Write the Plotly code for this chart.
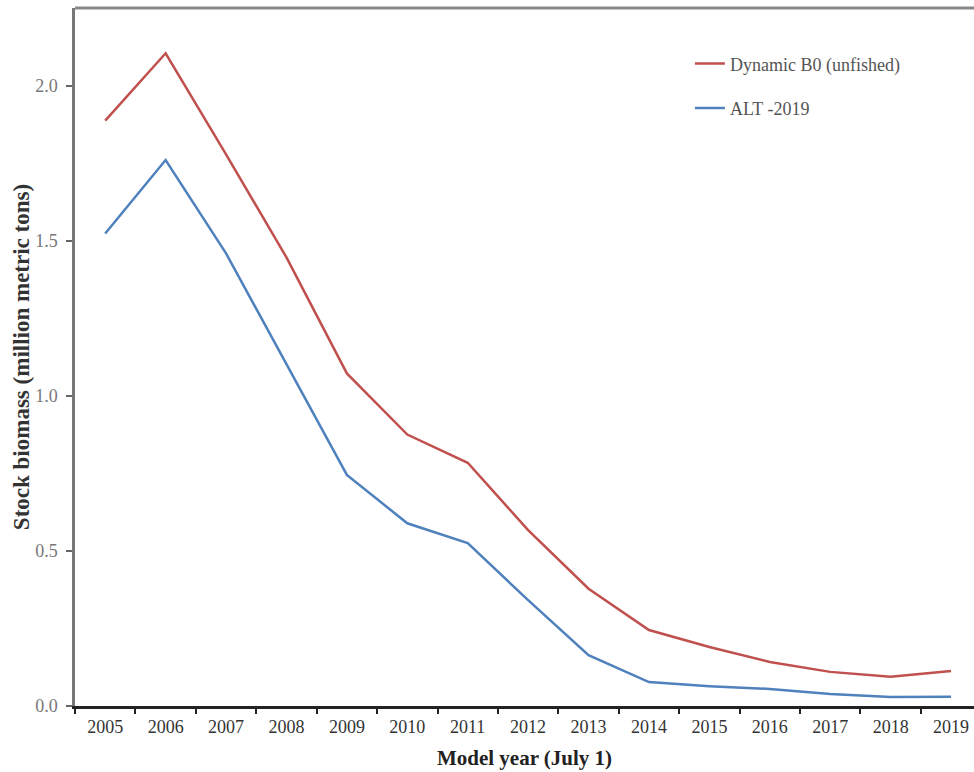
import plotly.graph_objects as go

years = [str(y) for y in range(2005, 2020)]
dynamic_b0 = [1.887, 2.104, 1.778, 1.446, 1.072, 0.875, 0.784, 0.567, 0.378, 0.245,
              0.190, 0.142, 0.110, 0.094, 0.113]
alt_2019 = [1.523, 1.760, 1.459, 1.100, 0.745, 0.589, 0.525, 0.341, 0.164, 0.077,
            0.064, 0.055, 0.039, 0.029, 0.030]
y_ticks = [0.0, 0.5, 1.0, 1.5, 2.0]

SERIF = "Liberation Serif, Times New Roman, serif"

fig = go.Figure()
fig.add_trace(go.Scatter(x=years, y=dynamic_b0, mode="lines", name="Dynamic B0 (unfished)",
                         line=dict(color="#C0504D", width=2.5), legendgroup="a"))
fig.add_trace(go.Scatter(x=years, y=alt_2019, mode="lines", name="ALT -2019",
                         line=dict(color="#4F81BD", width=2.5), legendgroup="b"))

fig.update_layout(
    width=974, height=772,
    margin=dict(l=75, r=0, t=8, b=66),
    paper_bgcolor="white", plot_bgcolor="white",
    font=dict(family=SERIF, size=14, color="#444"),
    showlegend=True,
    legend=dict(x=0.684, y=0.9465, xanchor="left", yanchor="top",
                bgcolor="rgba(0,0,0,0)", itemwidth=30, tracegroupgap=18,
                font=dict(family=SERIF, size=18, color="#555")),
    xaxis=dict(type="category", range=[-0.5, 14.38], tickson="boundaries",
               automargin=False, ticklabelstandoff=3,
               ticks="outside", ticklen=5, tickwidth=2, tickcolor="#222",
               showline=True, linecolor="#222", linewidth=2.5,
               showgrid=False, zeroline=False,
               tickfont=dict(family=SERIF, size=18, color="#333"),
               title=dict(text="<b>Model year (July 1)</b>",
                          font=dict(family=SERIF, size=21, color="#222"), standoff=14)),
    yaxis=dict(range=[0, 2.25], tickvals=y_ticks, tickformat=".1f",
               automargin=False, ticklabelstandoff=5,
               ticks="outside", ticklen=6, tickwidth=1.5, tickcolor="#666",
               showline=True, linecolor="#777", linewidth=2.5,
               showgrid=False, zeroline=False,
               tickfont=dict(family=SERIF, size=18, color="#777"),
               title=dict(text="<b>Stock biomass (million metric tons)</b>",
                          font=dict(family=SERIF, size=23, color="#333"), standoff=0)),
)

fig.add_shape(type="line", xref="paper", yref="paper", x0=0, x1=1, y0=1, y1=1,
              line=dict(color="#888", width=3))

fig.write_html("out.html", config={"displayModeBar": False},
               post_script="document.body.style.margin='0';document.body.style.overflow='hidden';")
